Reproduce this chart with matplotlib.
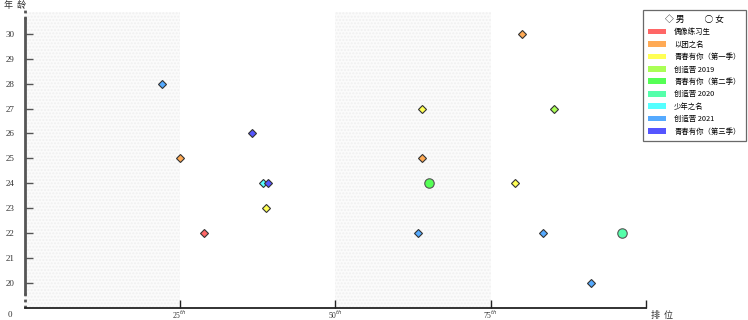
import matplotlib.pyplot as plt
from matplotlib.patches import Patch

plt.rcParams['font.family'] = ['Noto Sans CJK SC', 'DejaVu Sans']

# shows and their colours
shows = ['偶像练习生', '以团之名', '青春有你（第一季）', '创造营 2019', '青春有你（第二季）',
         '创造营 2020', '少年之名', '创造营 2021', '青春有你（第三季）']
show_colors = ['#ff6666', '#ffaa55', '#ffff55', '#aaff55', '#55ff55',
               '#55ffaa', '#55ffff', '#55aaff', '#5555ff']

# data points: rank percentile, age, show index, gender
rank = [22.2, 25.0, 28.9, 36.6, 38.4, 39.1, 38.9, 63.3, 65.1, 64.0, 64.0, 80.0, 85.2, 79.0, 83.4, 96.2, 91.2]
age = [28, 25, 22, 26, 24, 24, 23, 22, 24, 25, 27, 30, 27, 24, 22, 22, 20]
show_idx = [7, 1, 0, 8, 6, 8, 2, 7, 4, 1, 2, 1, 3, 2, 7, 5, 7]
gender = ['男', '男', '男', '男', '男', '男', '男', '男', '女', '男', '男', '男', '男', '男', '男', '女', '男']

xticks = [25, 50, 75, 100]
xtick_labels = ['25$^{th}$', '50$^{th}$', '75$^{th}$', '']
yticks = [20, 21, 22, 23, 24, 25, 26, 27, 28, 29, 30]

fig = plt.figure(figsize=(7.48, 3.2), dpi=100)
ax = fig.add_axes([24.5 / 748, 12.5 / 320, (646 - 24.5) / 748, 298.5 / 320])
ax.set_xlim(0, 100)
ax.set_ylim(19, 31)

# light hatched bands
for x0, x1 in [(0, 25), (50, 75)]:
    ax.axvspan(x0, x1, ymax=0.99, facecolor='#fbfbfb', edgecolor='#f0f0f0',
               hatch='.....', linewidth=0, zorder=0)

for x, y, s, g in zip(rank, age, show_idx, gender):
    if g == '男':
        ax.plot(x, y, marker='D', markersize=4.3, color=show_colors[s],
                markeredgecolor='#333333', markeredgewidth=0.8, zorder=3)
    else:
        ax.plot(x, y, marker='o', markersize=6.8, color=show_colors[s],
                markeredgecolor='#555555', markeredgewidth=0.8, zorder=3)

# spines
for side in ['top', 'right']:
    ax.spines[side].set_visible(False)
ax.spines['bottom'].set_linewidth(1.3)
ax.spines['bottom'].set_color('#222222')
ax.spines['left'].set_color('#555555')
ax.spines['left'].set_linewidth(2)
ax.spines['left'].set_bounds(19.6, 30.6)
ax.axvline(0, ymin=0, ymax=0.6 / 12, color='#555555', lw=2, ls=(0, (1, 1.2)), clip_on=False)
ax.axvline(0, ymin=11.6 / 12, ymax=1, color='#555555', lw=2, ls=(0, (1, 1.2)), clip_on=False)

ax.set_yticks(yticks)
ax.set_yticklabels([str(v) for v in yticks], fontsize=6.5, family='Liberation Serif', color='#333333')
ax.tick_params(axis='y', direction='in', length=6, width=1, color='#555555', pad=7)
ax.set_xticks(xticks)
ax.set_xticklabels(xtick_labels, fontsize=5.5, family='Liberation Serif', color='#333333')
ax.tick_params(axis='x', direction='in', length=6, width=1, color='#222222', pad=0.5)

fig.text(8 / 748, 1 - 315 / 320, '0', fontsize=6.5, family='Liberation Serif',
         color='#333333', va='center', ha='left')
fig.text(4 / 748, 1 - 5 / 320, '年  龄', fontsize=6.5, color='#333333', va='center', ha='left')
fig.text(651 / 748, 1 - 315 / 320, '排  位', fontsize=6.5, color='#333333', va='center', ha='left')

handles = [Patch(facecolor=c, edgecolor='none') for c in show_colors]
leg = fig.legend(handles, shows, loc='upper right', bbox_to_anchor=(0.997, 0.97),
                 fontsize=5.3, frameon=True, fancybox=False, edgecolor='#444444',
                 title='◇ 男          ○ 女', title_fontsize=6.3,
                 handlelength=2.4, handleheight=0.8, labelspacing=0.6,
                 handletextpad=1.1, borderpad=0.7, borderaxespad=0)
leg.get_frame().set_linewidth(0.9)
for t in leg.get_texts():
    t.set_fontstyle('italic')

fig.savefig('out.png', dpi=100)
